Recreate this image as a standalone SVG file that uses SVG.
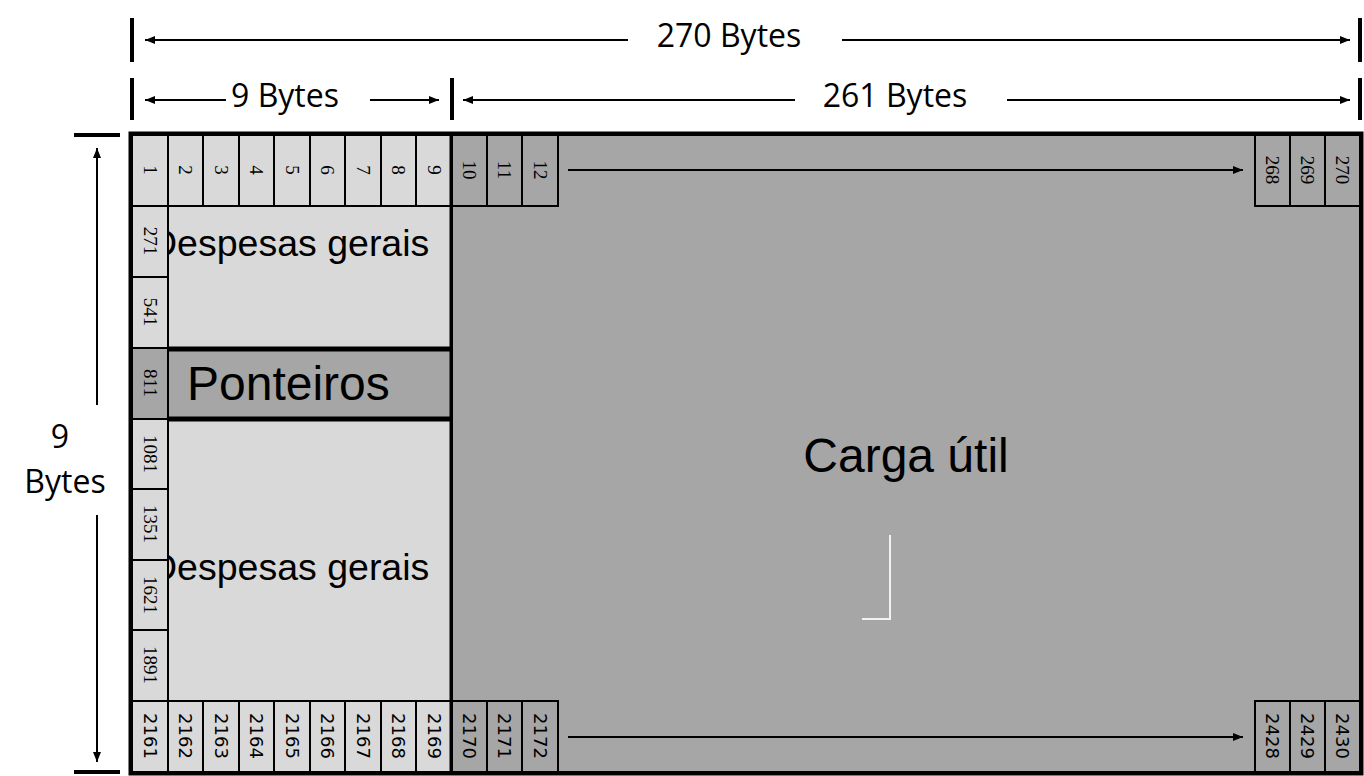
<svg xmlns="http://www.w3.org/2000/svg" width="1364" height="776" viewBox="0 0 1364 776">
<defs>
<marker id="ah" markerWidth="10" markerHeight="8" refX="10" refY="4" orient="auto" markerUnits="userSpaceOnUse"><path d="M0,0 L10,4 L0,8 z" fill="#000"/></marker>
<style>
.l{fill:#d9d9d9;stroke:#000;stroke-width:2}
.d{fill:#a6a6a6;stroke:#000;stroke-width:2}
.ns{font-family:"Liberation Serif",serif;font-size:19px;text-anchor:middle;dominant-baseline:central}
.nb{font-family:"DejaVu Sans",sans-serif;font-size:18px;text-anchor:middle;dominant-baseline:central}
.t{font-family:"Liberation Sans",sans-serif}
.c{font-family:"Open Sans","Liberation Sans",sans-serif;font-size:32px}
.ln{stroke:#000;stroke-width:2;fill:none}
.tk{stroke:#000;stroke-width:4}
</style>
</defs>
<rect width="1364" height="776" fill="#fff"/>
<g id="payload"><rect class="d" x="452" y="135" width="908" height="637"/></g>
<g id="overhead1"><rect class="l" x="168" y="206" width="284" height="142"/>
<text class="t" x="150" y="256" font-size="37.5">Despesas gerais</text></g>
<g id="overhead2"><rect class="l" x="168" y="419" width="284" height="282"/>
<text class="t" x="150" y="580" font-size="37.5">Despesas gerais</text></g>
<g id="pointers"><rect x="168" y="349" width="283" height="70" fill="#a6a6a6"/>
<line x1="168" y1="349" x2="451" y2="349" stroke="#000" stroke-width="5"/>
<line x1="168" y1="419" x2="451" y2="419" stroke="#000" stroke-width="5"/>
<text class="t" x="187" y="400" font-size="48">Ponteiros</text></g>
<g id="cells">
<rect class="l" x="132" y="135" width="36" height="71"/><text class="ns" transform="translate(150,170) rotate(90)">1</text>
<rect class="l" x="168" y="135" width="35" height="71"/><text class="ns" transform="translate(185,170) rotate(90)">2</text>
<rect class="l" x="203" y="135" width="36" height="71"/><text class="ns" transform="translate(221,170) rotate(90)">3</text>
<rect class="l" x="239" y="135" width="35" height="71"/><text class="ns" transform="translate(256,170) rotate(90)">4</text>
<rect class="l" x="274" y="135" width="36" height="71"/><text class="ns" transform="translate(292,170) rotate(90)">5</text>
<rect class="l" x="310" y="135" width="35" height="71"/><text class="ns" transform="translate(327,170) rotate(90)">6</text>
<rect class="l" x="345" y="135" width="36" height="71"/><text class="ns" transform="translate(363,170) rotate(90)">7</text>
<rect class="l" x="381" y="135" width="35" height="71"/><text class="ns" transform="translate(398,170) rotate(90)">8</text>
<rect class="l" x="416" y="135" width="36" height="71"/><text class="ns" transform="translate(434,170) rotate(90)">9</text>
<rect class="d" x="452" y="135" width="35" height="71"/><text class="ns" transform="translate(469,170) rotate(90)">10</text>
<rect class="d" x="487" y="135" width="35" height="71"/><text class="ns" transform="translate(504,170) rotate(90)">11</text>
<rect class="d" x="522" y="135" width="36" height="71"/><text class="ns" transform="translate(540,170) rotate(90)">12</text>
<rect class="d" x="1255" y="135" width="35" height="71"/><text class="ns" transform="translate(1272,170) rotate(90)">268</text>
<rect class="d" x="1290" y="135" width="35" height="71"/><text class="ns" transform="translate(1307,170) rotate(90)">269</text>
<rect class="d" x="1325" y="135" width="35" height="71"/><text class="ns" transform="translate(1342,170) rotate(90)">270</text>
<rect class="l" x="132" y="206" width="36" height="71"/><text class="ns" transform="translate(150,241) rotate(90)">271</text>
<rect class="l" x="132" y="277" width="36" height="71"/><text class="ns" transform="translate(150,312) rotate(90)">541</text>
<rect class="d" x="132" y="348" width="36" height="71"/><text class="ns" transform="translate(150,383) rotate(90)">811</text>
<rect class="l" x="132" y="419" width="36" height="70"/><text class="ns" transform="translate(150,454) rotate(90)">1081</text>
<rect class="l" x="132" y="489" width="36" height="71"/><text class="ns" transform="translate(150,524) rotate(90)">1351</text>
<rect class="l" x="132" y="560" width="36" height="70"/><text class="ns" transform="translate(150,595) rotate(90)">1621</text>
<rect class="l" x="132" y="630" width="36" height="71"/><text class="ns" transform="translate(150,665) rotate(90)">1891</text>
<rect class="l" x="132" y="701" width="36" height="71"/><text class="nb" transform="translate(150,736) rotate(90)">2161</text>
<rect class="l" x="168" y="701" width="35" height="71"/><text class="nb" transform="translate(185,736) rotate(90)">2162</text>
<rect class="l" x="203" y="701" width="36" height="71"/><text class="nb" transform="translate(221,736) rotate(90)">2163</text>
<rect class="l" x="239" y="701" width="35" height="71"/><text class="nb" transform="translate(256,736) rotate(90)">2164</text>
<rect class="l" x="274" y="701" width="36" height="71"/><text class="nb" transform="translate(292,736) rotate(90)">2165</text>
<rect class="l" x="310" y="701" width="35" height="71"/><text class="nb" transform="translate(327,736) rotate(90)">2166</text>
<rect class="l" x="345" y="701" width="36" height="71"/><text class="nb" transform="translate(363,736) rotate(90)">2167</text>
<rect class="l" x="381" y="701" width="35" height="71"/><text class="nb" transform="translate(398,736) rotate(90)">2168</text>
<rect class="l" x="416" y="701" width="36" height="71"/><text class="nb" transform="translate(434,736) rotate(90)">2169</text>
<rect class="d" x="452" y="701" width="35" height="71"/><text class="nb" transform="translate(469,736) rotate(90)">2170</text>
<rect class="d" x="487" y="701" width="35" height="71"/><text class="nb" transform="translate(504,736) rotate(90)">2171</text>
<rect class="d" x="522" y="701" width="36" height="71"/><text class="nb" transform="translate(540,736) rotate(90)">2172</text>
<rect class="d" x="1255" y="701" width="35" height="71"/><text class="nb" transform="translate(1272,736) rotate(90)">2428</text>
<rect class="d" x="1290" y="701" width="35" height="71"/><text class="nb" transform="translate(1307,736) rotate(90)">2429</text>
<rect class="d" x="1325" y="701" width="35" height="71"/><text class="nb" transform="translate(1342,736) rotate(90)">2430</text>
</g>
<rect x="130" y="133" width="1232" height="641" fill="none" stroke="#000" stroke-width="3"/>
<line x1="451" y1="133" x2="451" y2="774" stroke="#000" stroke-width="3"/>
<g id="payload-label"><text class="t" x="906" y="472" font-size="48" text-anchor="middle">Carga útil</text>
<path d="M890,535 V619 H862" fill="none" stroke="#f2f2f2" stroke-width="2"/></g>
<g id="connectors">
<line class="ln" x1="568" y1="170" x2="1243" y2="170" marker-end="url(#ah)"/>
<line class="ln" x1="568" y1="737" x2="1243" y2="737" marker-end="url(#ah)"/>
<line class="tk" x1="132" y1="18" x2="132" y2="62"/><line class="tk" x1="1360" y1="18" x2="1360" y2="62"/>
<line class="ln" x1="628" y1="40" x2="145" y2="40" marker-end="url(#ah)"/>
<line class="ln" x1="842" y1="40" x2="1350" y2="40" marker-end="url(#ah)"/>
<line class="tk" x1="132" y1="78" x2="132" y2="120"/><line class="tk" x1="452" y1="78" x2="452" y2="120"/><line class="tk" x1="1360" y1="78" x2="1360" y2="120"/>
<line class="ln" x1="226" y1="100" x2="145" y2="100" marker-end="url(#ah)"/>
<line class="ln" x1="370" y1="100" x2="439" y2="100" marker-end="url(#ah)"/>
<line class="ln" x1="795" y1="100" x2="463" y2="100" marker-end="url(#ah)"/>
<line class="ln" x1="1007" y1="100" x2="1350" y2="100" marker-end="url(#ah)"/>
<line class="tk" x1="74" y1="135" x2="120" y2="135"/><line class="tk" x1="74" y1="772" x2="120" y2="772"/>
<line class="ln" x1="97" y1="405" x2="97" y2="148" marker-end="url(#ah)"/>
<line class="ln" x1="97" y1="515" x2="97" y2="762" marker-end="url(#ah)"/>
</g>
<g id="labels">
<text class="c" x="729" y="47" text-anchor="middle">270 Bytes</text>
<text class="c" x="285" y="107" text-anchor="middle">9 Bytes</text>
<text class="c" x="895" y="107" text-anchor="middle">261 Bytes</text>
<text class="c" x="60" y="448" text-anchor="middle">9</text>
<text class="c" x="65" y="493" text-anchor="middle">Bytes</text>
</g>
</svg>
